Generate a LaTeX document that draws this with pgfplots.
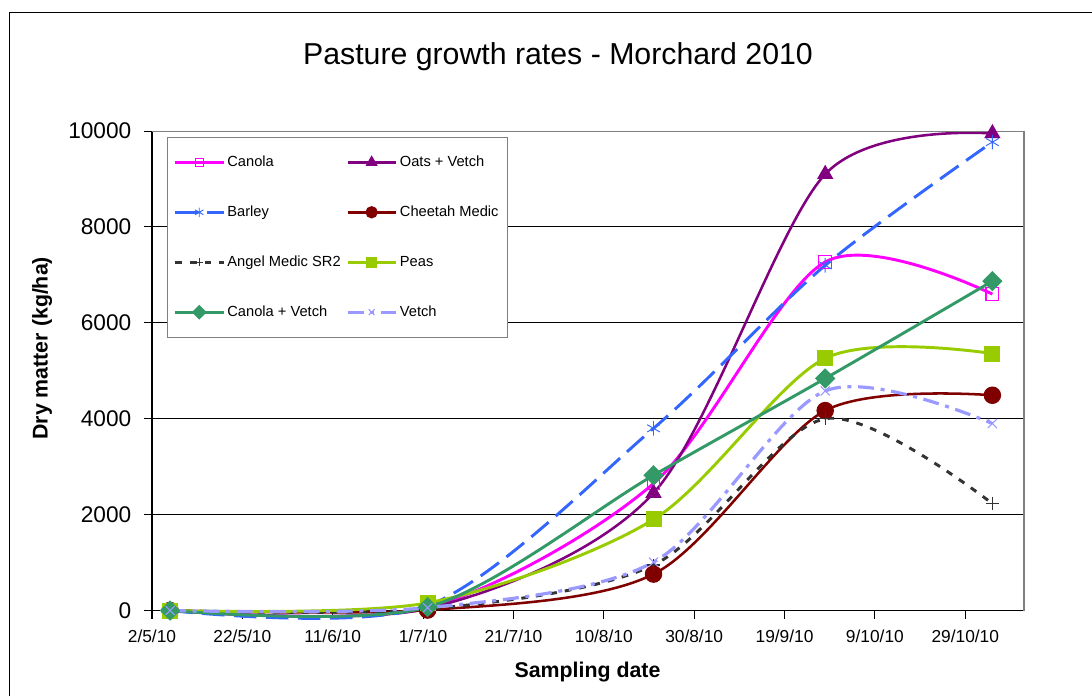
\documentclass[border=0pt]{standalone}
\usepackage{pgfplots}
\pgfplotsset{compat=1.18}
\usepackage{fontspec}
\setmainfont{Liberation Sans}
\usetikzlibrary{plotmarks}
\definecolor{canola}{RGB}{255,0,255}
\definecolor{oats}{RGB}{128,0,128}
\definecolor{barley}{RGB}{51,102,255}
\definecolor{cheetah}{RGB}{128,0,0}
\definecolor{angel}{RGB}{51,51,51}
\definecolor{peas}{RGB}{153,204,0}
\definecolor{cv}{RGB}{51,153,102}
\definecolor{vetch}{RGB}{153,153,255}
\begin{document}
\begin{tikzpicture}[x=1pt,y=1pt]
\path[use as bounding box] (0,0) rectangle (819,522);
\draw[line width=1.1pt] (7.1,0) -- (7.1,512.5) -- (819,512.5);
\begin{axis}[
 at={(114pt,64.1pt)}, anchor=south west,
 scale only axis, width=654pt, height=359.6pt,
 xmin=0, xmax=193, ymin=0, ymax=10000,
 clip=false,
 axis x line*=bottom, axis y line*=left,
 axis line style={-, black, line width=0.8pt},
 ymajorgrids, grid style={black, line width=0.75pt},
 xtick={0,20,...,180},
 xticklabels={2/5/10,22/5/10,11/6/10,1/7/10,21/7/10,10/8/10,30/8/10,19/9/10,9/10/10,29/10/10},
 ytick={0,2000,...,10000},
 scaled y ticks=false,
 tick align=outside, major tick length=6pt,
 tick style={black, line width=0.8pt},
 /pgf/number format/assume math mode=true,
 yticklabel style={/pgf/number format/1000 sep={}, font=\fontsize{17}{20}\selectfont, xshift=-6pt},
 xticklabel style={font=\fontsize{13}{16}\selectfont, yshift=-5pt},
 title={Pasture growth rates - Morchard 2010},
 title style={at={(axis description cs:0.4656,1.1377)}, anchor=center, font=\fontsize{22.7}{27}\selectfont},
 xlabel={Sampling date},
 xlabel style={at={(axis description cs:0.4994,-0.128)}, anchor=center, font=\bfseries\fontsize{16}{19}\selectfont},
 ylabel={Dry matter (kg/ha)},
 ylabel style={at={(axis description cs:-0.126,0.547)}, anchor=center, font=\bfseries\fontsize{16}{19}\selectfont},
 legend columns=2,
 legend cell align=left,
 legend style={at={(0.0175,0.988)}, anchor=north west, draw=gray, fill=white, line width=0.8pt,
   font=\fontsize{11}{13}\selectfont, inner xsep=4.5pt, inner ysep=12pt, row sep=24pt,
   /tikz/every even column/.append style={column sep=2pt}},
 legend image code/.code={\draw[mark repeat=2,mark phase=2,#1] plot coordinates {(0pt,0pt)(18pt,0pt)(36pt,0pt)};},
 legend image post style={every mark/.append style={scale=0.65}},
 every axis plot/.append style={smooth},
]
\addplot[canola, line width=2.2pt, mark=square, mark size=4.8pt, mark options={solid, fill=white, line width=0.8pt}]
 coordinates {(4,0) (61,60) (111,2650) (149,7270) (186,6600)};
\addlegendentry{Canola}
\addplot[oats, line width=1.9pt, mark=triangle*, mark size=5.2pt, mark options={solid}]
 coordinates {(4,0) (61,40) (111,2450) (149,9100) (186,9950)};
\addlegendentry{Oats + Vetch}
\addplot[barley, line width=2.2pt, dash pattern=on 17pt off 7pt, mark=asterisk, mark size=5.5pt, mark options={solid, line width=0.7pt}]
 coordinates {(4,0) (61,100) (111,3800) (149,7200) (186,9770)};
\addlegendentry{Barley}
\addplot[cheetah, line width=1.9pt, mark=*, mark size=5.6pt, mark options={solid}]
 coordinates {(4,0) (61,10) (111,760) (149,4170) (186,4490)};
\addlegendentry{Cheetah Medic}
\addplot[angel, line width=2.2pt, dash pattern=on 5pt off 6pt, mark=+, mark size=4.8pt, mark options={solid, line width=0.8pt}]
 coordinates {(4,0) (61,30) (111,950) (149,4000) (186,2230)};
\addlegendentry{Angel Medic SR2}
\addplot[peas, line width=2.2pt, mark=square*, mark size=4.9pt, mark options={solid}]
 coordinates {(4,0) (61,160) (111,1900) (149,5260) (186,5360)};
\addlegendentry{Peas}
\addplot[cv, line width=2.2pt, mark=square*, mark size=4.3pt, mark options={solid, rotate=45}]
 coordinates {(4,0) (61,70) (111,2820) (149,4840) (186,6870)};
\addlegendentry{Canola + Vetch}
\addplot[vetch, line width=2.4pt, dash pattern=on 12pt off 5pt on 3pt off 5pt, mark=x, mark size=4.8pt, mark options={solid, line width=0.8pt}]
 coordinates {(4,0) (61,60) (111,1010) (149,4580) (186,3900)};
\addlegendentry{Vetch}
\draw[gray, line width=0.8pt] (rel axis cs:0,1) -- (rel axis cs:1,1) -- (rel axis cs:1,0);
\end{axis}
\end{tikzpicture}
\end{document}
